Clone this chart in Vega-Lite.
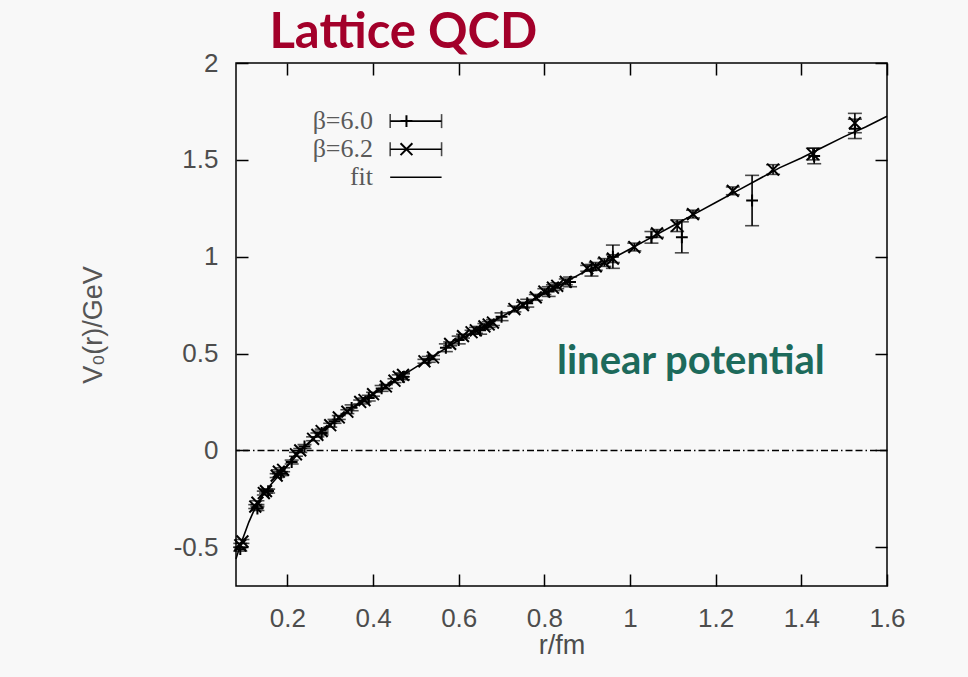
{
  "$schema": "https://vega.github.io/schema/vega-lite/v6.json",
  "width": 651,
  "height": 523,
  "autosize": {"type": "none"},
  "padding": {"left": 236, "top": 63, "right": 81, "bottom": 91},
  "background": "#f8f8f8",
  "config": {
    "view": {"stroke": "black", "strokeWidth": 1.5},
    "axis": {"grid": false}
  },
  "resolve": {"axis": {"x": "independent", "y": "independent"}},
  "datasets": {
    "fit": [
      {"r": 0.08, "V": -0.56}, {"r": 0.09, "V": -0.49}, {"r": 0.10, "V": -0.43}, {"r": 0.11, "V": -0.37},
      {"r": 0.12, "V": -0.32}, {"r": 0.13, "V": -0.28}, {"r": 0.14, "V": -0.24}, {"r": 0.16, "V": -0.18},
      {"r": 0.18, "V": -0.13}, {"r": 0.20, "V": -0.08}, {"r": 0.22, "V": -0.03}, {"r": 0.24, "V": 0.02},
      {"r": 0.27, "V": 0.08}, {"r": 0.31, "V": 0.15}, {"r": 0.35, "V": 0.22}, {"r": 0.40, "V": 0.29},
      {"r": 0.45, "V": 0.36}, {"r": 0.50, "V": 0.43}, {"r": 0.55, "V": 0.50}, {"r": 0.60, "V": 0.57},
      {"r": 0.65, "V": 0.63}, {"r": 0.70, "V": 0.69}, {"r": 0.75, "V": 0.75}, {"r": 0.80, "V": 0.81},
      {"r": 0.85, "V": 0.87}, {"r": 0.90, "V": 0.93}, {"r": 0.95, "V": 0.98}, {"r": 1.00, "V": 1.04},
      {"r": 1.05, "V": 1.10}, {"r": 1.10, "V": 1.16}, {"r": 1.15, "V": 1.22}, {"r": 1.20, "V": 1.28},
      {"r": 1.25, "V": 1.34}, {"r": 1.30, "V": 1.40}, {"r": 1.35, "V": 1.46}, {"r": 1.40, "V": 1.51},
      {"r": 1.45, "V": 1.565}, {"r": 1.50, "V": 1.62}, {"r": 1.55, "V": 1.67}, {"r": 1.60, "V": 1.725}
    ],
    "pts": [
      {"r": 0.09, "V": -0.49, "err": 0.01, "beta": "6.2"},
      {"r": 0.095, "V": -0.47, "err": 0.01, "beta": "6.2"},
      {"r": 0.125, "V": -0.29, "err": 0.01, "beta": "6.2"},
      {"r": 0.13, "V": -0.27, "err": 0.01, "beta": "6.2"},
      {"r": 0.145, "V": -0.22, "err": 0.01, "beta": "6.2"},
      {"r": 0.15, "V": -0.21, "err": 0.01, "beta": "6.2"},
      {"r": 0.175, "V": -0.13, "err": 0.01, "beta": "6.2"},
      {"r": 0.18, "V": -0.11, "err": 0.01, "beta": "6.2"},
      {"r": 0.19, "V": -0.10, "err": 0.01, "beta": "6.2"},
      {"r": 0.22, "V": -0.02, "err": 0.01, "beta": "6.2"},
      {"r": 0.23, "V": 0.0, "err": 0.01, "beta": "6.2"},
      {"r": 0.26, "V": 0.06, "err": 0.01, "beta": "6.2"},
      {"r": 0.27, "V": 0.08, "err": 0.01, "beta": "6.2"},
      {"r": 0.28, "V": 0.10, "err": 0.01, "beta": "6.2"},
      {"r": 0.30, "V": 0.13, "err": 0.01, "beta": "6.2"},
      {"r": 0.32, "V": 0.17, "err": 0.01, "beta": "6.2"},
      {"r": 0.34, "V": 0.20, "err": 0.01, "beta": "6.2"},
      {"r": 0.37, "V": 0.25, "err": 0.01, "beta": "6.2"},
      {"r": 0.38, "V": 0.26, "err": 0.01, "beta": "6.2"},
      {"r": 0.40, "V": 0.29, "err": 0.01, "beta": "6.2"},
      {"r": 0.43, "V": 0.33, "err": 0.01, "beta": "6.2"},
      {"r": 0.45, "V": 0.36, "err": 0.01, "beta": "6.2"},
      {"r": 0.46, "V": 0.38, "err": 0.01, "beta": "6.2"},
      {"r": 0.47, "V": 0.39, "err": 0.01, "beta": "6.2"},
      {"r": 0.52, "V": 0.46, "err": 0.01, "beta": "6.2"},
      {"r": 0.54, "V": 0.48, "err": 0.01, "beta": "6.2"},
      {"r": 0.58, "V": 0.55, "err": 0.01, "beta": "6.2"},
      {"r": 0.61, "V": 0.59, "err": 0.01, "beta": "6.2"},
      {"r": 0.63, "V": 0.61, "err": 0.01, "beta": "6.2"},
      {"r": 0.64, "V": 0.62, "err": 0.015, "beta": "6.2"},
      {"r": 0.66, "V": 0.64, "err": 0.015, "beta": "6.2"},
      {"r": 0.67, "V": 0.65, "err": 0.015, "beta": "6.2"},
      {"r": 0.68, "V": 0.66, "err": 0.015, "beta": "6.2"},
      {"r": 0.73, "V": 0.73, "err": 0.015, "beta": "6.2"},
      {"r": 0.75, "V": 0.75, "err": 0.015, "beta": "6.2"},
      {"r": 0.78, "V": 0.79, "err": 0.015, "beta": "6.2"},
      {"r": 0.80, "V": 0.82, "err": 0.015, "beta": "6.2"},
      {"r": 0.82, "V": 0.84, "err": 0.015, "beta": "6.2"},
      {"r": 0.83, "V": 0.85, "err": 0.015, "beta": "6.2"},
      {"r": 0.85, "V": 0.87, "err": 0.015, "beta": "6.2"},
      {"r": 0.90, "V": 0.94, "err": 0.015, "beta": "6.2"},
      {"r": 0.92, "V": 0.95, "err": 0.02, "beta": "6.2"},
      {"r": 0.94, "V": 0.97, "err": 0.02, "beta": "6.2"},
      {"r": 0.96, "V": 0.99, "err": 0.02, "beta": "6.2"},
      {"r": 1.01, "V": 1.05, "err": 0.02, "beta": "6.2"},
      {"r": 1.063, "V": 1.12, "err": 0.02, "beta": "6.2"},
      {"r": 1.11, "V": 1.16, "err": 0.03, "beta": "6.2"},
      {"r": 1.147, "V": 1.22, "err": 0.02, "beta": "6.2"},
      {"r": 1.24, "V": 1.34, "err": 0.02, "beta": "6.2"},
      {"r": 1.334, "V": 1.45, "err": 0.025, "beta": "6.2"},
      {"r": 1.427, "V": 1.53, "err": 0.03, "beta": "6.2"},
      {"r": 1.525, "V": 1.69, "err": 0.05, "beta": "6.2"},
      {"r": 0.09, "V": -0.51, "err": 0.01, "beta": "6.0"},
      {"r": 0.13, "V": -0.30, "err": 0.01, "beta": "6.0"},
      {"r": 0.155, "V": -0.21, "err": 0.01, "beta": "6.0"},
      {"r": 0.185, "V": -0.12, "err": 0.01, "beta": "6.0"},
      {"r": 0.21, "V": -0.06, "err": 0.01, "beta": "6.0"},
      {"r": 0.24, "V": 0.02, "err": 0.01, "beta": "6.0"},
      {"r": 0.28, "V": 0.09, "err": 0.01, "beta": "6.0"},
      {"r": 0.31, "V": 0.15, "err": 0.01, "beta": "6.0"},
      {"r": 0.35, "V": 0.22, "err": 0.015, "beta": "6.0"},
      {"r": 0.39, "V": 0.27, "err": 0.015, "beta": "6.0"},
      {"r": 0.42, "V": 0.32, "err": 0.015, "beta": "6.0"},
      {"r": 0.47, "V": 0.38, "err": 0.015, "beta": "6.0"},
      {"r": 0.53, "V": 0.47, "err": 0.015, "beta": "6.0"},
      {"r": 0.57, "V": 0.53, "err": 0.02, "beta": "6.0"},
      {"r": 0.60, "V": 0.57, "err": 0.02, "beta": "6.0"},
      {"r": 0.65, "V": 0.62, "err": 0.02, "beta": "6.0"},
      {"r": 0.70, "V": 0.69, "err": 0.02, "beta": "6.0"},
      {"r": 0.76, "V": 0.76, "err": 0.02, "beta": "6.0"},
      {"r": 0.81, "V": 0.82, "err": 0.025, "beta": "6.0"},
      {"r": 0.86, "V": 0.87, "err": 0.025, "beta": "6.0"},
      {"r": 0.91, "V": 0.93, "err": 0.03, "beta": "6.0"},
      {"r": 0.96, "V": 1.0, "err": 0.06, "beta": "6.0"},
      {"r": 1.05, "V": 1.10, "err": 0.03, "beta": "6.0"},
      {"r": 1.121, "V": 1.10, "err": 0.08, "beta": "6.0"},
      {"r": 1.285, "V": 1.29, "err": 0.13, "beta": "6.0"},
      {"r": 1.43, "V": 1.52, "err": 0.04, "beta": "6.0"},
      {"r": 1.525, "V": 1.66, "err": 0.05, "beta": "6.0"}
    ],
    "zero": [{"V": 0}],
    "legtext": [
      {"r": 0.40, "V": 1.70, "label": "β=6.0"},
      {"r": 0.40, "V": 1.555, "label": "β=6.2"},
      {"r": 0.40, "V": 1.41, "label": "fit"}
    ],
    "legbar": [
      {"r": 0.44, "r2": 0.56, "V": 1.70},
      {"r": 0.44, "r2": 0.56, "V": 1.555}
    ],
    "legmark": [
      {"r": 0.478, "V": 1.70, "beta": "6.0"},
      {"r": 0.478, "V": 1.555, "beta": "6.2"}
    ],
    "legfit": [{"r": 0.44, "r2": 0.56, "V": 1.41}],
    "note": [{"r": 1.142, "V": 0.393, "label": "linear potential"}],
    "heading": [{"r": 0.158, "V": 2.077, "label": "Lattice QCD"}]
  },
  "layer": [
    {
      "data": {"name": "zero"},
      "mark": {"type": "rule", "color": "black", "strokeWidth": 1.5, "strokeDash": [7, 3, 7, 3, 1.5, 3]},
      "encoding": {
        "y": {"field": "V", "type": "quantitative", "scale": {"domain": [-0.7, 2], "nice": false, "zero": false}, "axis": null}
      }
    },
    {
      "data": {"name": "fit"},
      "mark": {"type": "line", "color": "black", "strokeWidth": 1.6},
      "encoding": {
        "x": {
          "field": "r", "type": "quantitative",
          "scale": {"domain": [0.08, 1.6], "nice": false, "zero": false},
          "axis": {
            "orient": "bottom", "values": [0.2, 0.4, 0.6, 0.8, 1, 1.2, 1.4, 1.6], "format": "~g",
            "domain": false, "tickSize": -12, "tickColor": "black", "tickWidth": 1.5,
            "labelFlush": false, "labelOverlap": false, "labelPadding": 31,
            "labelFont": "Liberation Sans", "labelFontSize": 26, "labelColor": "#4d4d4d",
            "title": "r/fm", "titleFont": "Liberation Sans", "titleFontSize": 27, "titleFontWeight": "normal",
            "titleColor": "#4d4d4d", "titlePadding": 1
          }
        },
        "y": {
          "field": "V", "type": "quantitative",
          "scale": {"domain": [-0.7, 2], "nice": false, "zero": false},
          "axis": {
            "orient": "left", "values": [-0.5, 0, 0.5, 1, 1.5, 2], "format": "~g",
            "labelExpr": "replace(datum.label, '−', '-')",
            "domain": false, "tickSize": -12, "tickColor": "black", "tickWidth": 1.5,
            "labelFlush": false, "labelOverlap": false, "labelPadding": 30,
            "labelFont": "Liberation Sans", "labelFontSize": 26, "labelColor": "#4d4d4d",
            "title": "V₀(r)/GeV", "titleFont": "Liberation Sans", "titleFontSize": 27, "titleFontWeight": "normal",
            "titleColor": "#555555", "titlePadding": 66
          }
        }
      }
    },
    {
      "data": {"name": "pts"},
      "mark": {"type": "errorbar", "ticks": {"size": 14}, "thickness": 1.6, "color": "black"},
      "encoding": {
        "x": {"field": "r", "type": "quantitative", "scale": {"domain": [0.08, 1.6], "nice": false, "zero": false}, "axis": null},
        "y": {"field": "V", "type": "quantitative", "scale": {"domain": [-0.7, 2], "nice": false, "zero": false}, "axis": null},
        "yError": {"field": "err"}
      }
    },
    {
      "data": {"name": "pts"},
      "mark": {"type": "point", "filled": false, "stroke": "black", "strokeWidth": 2, "opacity": 1, "size": 140},
      "encoding": {
        "x": {
          "field": "r", "type": "quantitative", "scale": {"domain": [0.08, 1.6], "nice": false, "zero": false},
          "axis": {"orient": "top", "values": [0.2, 0.4, 0.6, 0.8, 1, 1.2, 1.4, 1.6], "labels": false, "title": null, "domain": false, "tickSize": -12, "tickColor": "black", "tickWidth": 1.5}
        },
        "y": {
          "field": "V", "type": "quantitative", "scale": {"domain": [-0.7, 2], "nice": false, "zero": false},
          "axis": {"orient": "right", "values": [-0.5, 0, 0.5, 1, 1.5, 2], "labels": false, "title": null, "domain": false, "tickSize": -12, "tickColor": "black", "tickWidth": 1.5}
        },
        "shape": {"field": "beta", "type": "nominal", "scale": {"domain": ["6.0", "6.2"], "range": ["M-1,0L1,0M0,-1L0,1", "M-1,-1L1,1M-1,1L1,-1"]}, "legend": null}
      }
    },
    {
      "data": {"name": "legtext"},
      "mark": {"type": "text", "align": "right", "baseline": "middle", "font": "Liberation Serif", "fontSize": 26, "color": "#5a5a5a"},
      "encoding": {
        "x": {"field": "r", "type": "quantitative", "scale": {"domain": [0.08, 1.6], "nice": false, "zero": false}, "axis": null},
        "y": {"field": "V", "type": "quantitative", "scale": {"domain": [-0.7, 2], "nice": false, "zero": false}, "axis": null},
        "text": {"field": "label"}
      }
    },
    {
      "data": {"name": "legbar"},
      "mark": {"type": "errorbar", "ticks": {"size": 14}, "thickness": 1.6, "color": "black"},
      "encoding": {
        "x": {"field": "r", "type": "quantitative", "scale": {"domain": [0.08, 1.6], "nice": false, "zero": false}, "axis": null},
        "x2": {"field": "r2"},
        "y": {"field": "V", "type": "quantitative", "scale": {"domain": [-0.7, 2], "nice": false, "zero": false}, "axis": null}
      }
    },
    {
      "data": {"name": "legmark"},
      "mark": {"type": "point", "filled": false, "stroke": "black", "strokeWidth": 2, "opacity": 1, "size": 140},
      "encoding": {
        "x": {"field": "r", "type": "quantitative", "scale": {"domain": [0.08, 1.6], "nice": false, "zero": false}, "axis": null},
        "y": {"field": "V", "type": "quantitative", "scale": {"domain": [-0.7, 2], "nice": false, "zero": false}, "axis": null},
        "shape": {"field": "beta", "type": "nominal", "scale": {"domain": ["6.0", "6.2"], "range": ["M-1,0L1,0M0,-1L0,1", "M-1,-1L1,1M-1,1L1,-1"]}, "legend": null}
      }
    },
    {
      "data": {"name": "legfit"},
      "mark": {"type": "rule", "color": "black", "strokeWidth": 1.6},
      "encoding": {
        "x": {"field": "r", "type": "quantitative", "scale": {"domain": [0.08, 1.6], "nice": false, "zero": false}, "axis": null},
        "x2": {"field": "r2"},
        "y": {"field": "V", "type": "quantitative", "scale": {"domain": [-0.7, 2], "nice": false, "zero": false}, "axis": null}
      }
    },
    {
      "data": {"name": "note"},
      "mark": {"type": "text", "align": "center", "baseline": "alphabetic", "font": "Lato", "fontWeight": "bold", "fontSize": 40, "color": "#1d6a5b"},
      "encoding": {
        "x": {"field": "r", "type": "quantitative", "scale": {"domain": [0.08, 1.6], "nice": false, "zero": false}, "axis": null},
        "y": {"field": "V", "type": "quantitative", "scale": {"domain": [-0.7, 2], "nice": false, "zero": false}, "axis": null},
        "text": {"field": "label"}
      }
    },
    {
      "data": {"name": "heading"},
      "mark": {"type": "text", "align": "left", "baseline": "alphabetic", "font": "Lato", "fontWeight": "bold", "fontSize": 49, "color": "#a3002a", "clip": false},
      "encoding": {
        "x": {"field": "r", "type": "quantitative", "scale": {"domain": [0.08, 1.6], "nice": false, "zero": false}, "axis": null},
        "y": {"field": "V", "type": "quantitative", "scale": {"domain": [-0.7, 2], "nice": false, "zero": false}, "axis": null},
        "text": {"field": "label"}
      }
    }
  ]
}
